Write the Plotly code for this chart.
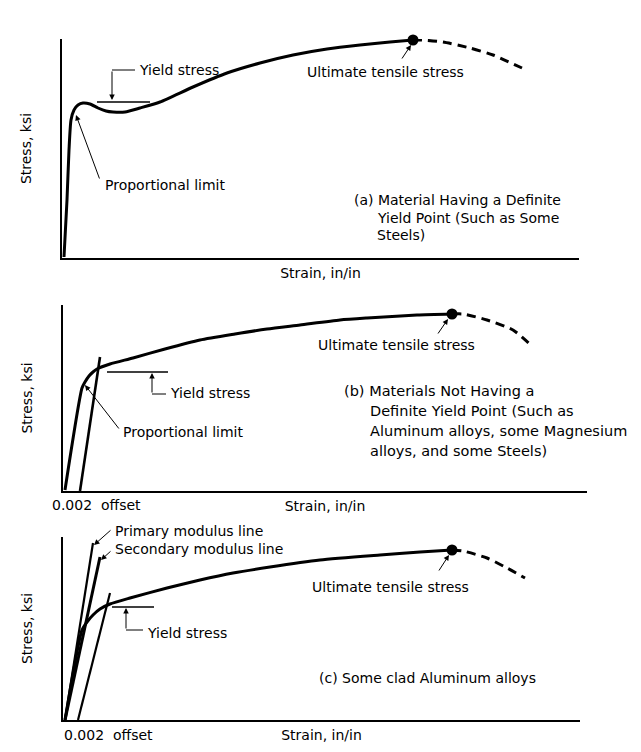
import plotly.graph_objects as go

# ---------------- data (arbitrary strain / stress units) -------------
# Panel (a): material having a definite yield point
strain_a = [2, 5, 7, 9, 12, 16, 21, 28, 36, 44, 51, 63, 78, 98, 131, 165, 198, 231, 265, 298, 328, 351]
stress_a = [1, 58, 108, 138, 148, 153, 155, 154, 150, 147, 146, 146, 150, 156, 171, 185, 195, 203, 209, 213, 216, 218]
strain_a_tail = [351, 360, 381, 408, 431, 460]
stress_a_tail = [218, 218, 216, 210, 203, 190]
yield_a_strain = [35, 88]
yield_a_stress = [156, 156]

# Panel (b): materials not having a definite yield point
strain_b = [2, 19, 22, 26, 30, 34, 47, 70, 102, 137, 172, 204, 237, 277, 304, 354, 389]
stress_b = [1, 103, 109, 115, 119, 122, 127, 133, 142, 151, 157, 162, 166, 171, 173, 176, 177]
strain_b_tail = [389, 400, 424, 450, 470]
stress_b_tail = [177, 177, 171, 161, 144]
offset_b_strain = [17, 37]
offset_b_stress = [0, 134]
yield_b_strain = [44, 105]
yield_b_stress = [119, 119]

# Panel (c): some clad aluminum alloys
strain_c = [2, 19, 24, 30, 37, 47, 67, 104, 137, 170, 207, 257, 317, 357, 389]
stress_c = [0, 90, 98, 105, 111, 116, 122, 132, 140, 147, 153, 160, 165, 168, 170]
strain_c_tail = [389, 400, 424, 444, 462]
stress_c_tail = [170, 169, 162, 152, 142]
primary_c_strain = [2, 30]
primary_c_stress = [0, 177]
secondary_c_strain = [2, 37]
secondary_c_stress = [0, 163]
offset_c_strain = [15, 47]
offset_c_stress = [0, 127]
yield_c_strain = [49, 91]
yield_c_stress = [113, 113]

FONT = "DejaVu Sans"
FS = 14
BLACK = "#000000"

fig = go.Figure()


def line(x, y, ax, w=3, dash=None):
    fig.add_trace(go.Scatter(
        x=x, y=y, mode="lines", xaxis="x" + ax, yaxis="y" + ax,
        line=dict(color=BLACK, width=w, dash=dash, shape="spline", smoothing=0.6),
        hoverinfo="skip", showlegend=False, cliponaxis=False))


def dot(x, y, ax):
    fig.add_trace(go.Scatter(
        x=[x], y=[y], mode="markers", xaxis="x" + ax, yaxis="y" + ax,
        marker=dict(color=BLACK, size=11), hoverinfo="skip",
        showlegend=False, cliponaxis=False))


# (a)
line(strain_a, stress_a, "")
line(strain_a_tail, stress_a_tail, "", dash="9px,6px")
line(yield_a_strain, yield_a_stress, "", w=1.6)
dot(strain_a[-1], stress_a[-1], "")
# (b)
line(strain_b, stress_b, "2")
line(strain_b_tail, stress_b_tail, "2", dash="9px,6px")
line(offset_b_strain, offset_b_stress, "2", w=2.6)
line(yield_b_strain, yield_b_stress, "2", w=1.6)
dot(strain_b[-1], stress_b[-1], "2")
# (c)
line(strain_c, stress_c, "3")
line(strain_c_tail, stress_c_tail, "3", dash="9px,6px")
line(primary_c_strain, primary_c_stress, "3", w=2.2)
line(secondary_c_strain, secondary_c_stress, "3", w=3)
line(offset_c_strain, offset_c_stress, "3", w=2.2)
line(yield_c_strain, yield_c_stress, "3", w=1.6)
dot(strain_c[-1], stress_c[-1], "3")

W, H = 641, 752


def px_x(p):
    return p / W


def px_y(p):
    return 1 - p / H


axis_common = dict(showline=True, linecolor=BLACK, linewidth=2, showgrid=False,
                   zeroline=False, showticklabels=False, ticks="", fixedrange=True)
xt = dict(text="Strain, in/in", font=dict(family=FONT, size=FS, color=BLACK), standoff=9)
yt = dict(text="Stress, ksi", font=dict(family=FONT, size=FS, color=BLACK), standoff=25)

fig.update_layout(
    width=W, height=H, margin=dict(l=0, r=0, t=0, b=0),
    paper_bgcolor="white", plot_bgcolor="white",
    font=dict(family=FONT, size=FS, color=BLACK),
    xaxis=dict(domain=[px_x(62), px_x(579)], range=[0, 517], anchor="y", title=xt, **axis_common),
    yaxis=dict(domain=[px_y(258), px_y(39)], range=[0, 219], anchor="x", title=yt, **axis_common),
    xaxis2=dict(domain=[px_x(63), px_x(587)], range=[0, 524], anchor="y2", title=xt, **axis_common),
    yaxis2=dict(domain=[px_y(491), px_y(305)], range=[0, 186], anchor="x2", title=yt, **axis_common),
    xaxis3=dict(domain=[px_x(63), px_x(580)], range=[0, 517], anchor="y3", title=xt, **axis_common),
    yaxis3=dict(domain=[px_y(720), px_y(537)], range=[0, 183], anchor="x3", title=yt, **axis_common),
)

ann = []


def text(x, y, s, ax, anchor="left", size=FS):
    ann.append(dict(x=x, y=y, xref="x" + ax, yref="y" + ax, text=s, showarrow=False,
                    xanchor=anchor, yanchor="middle",
                    font=dict(family=FONT, size=size, color=BLACK)))


def text_px(px, py, s, size=FS):
    ann.append(dict(x=px_x(px), y=px_y(py), xref="paper", yref="paper", text=s, showarrow=False,
                    xanchor="left", yanchor="middle",
                    font=dict(family=FONT, size=size, color=BLACK)))


def arrow(hx, hy, tx, ty, ax):
    ann.append(dict(x=hx, y=hy, ax=tx, ay=ty, xref="x" + ax, yref="y" + ax,
                    axref="x" + ax, ayref="y" + ax, text="", showarrow=True,
                    arrowhead=2, arrowsize=1.1, arrowwidth=1, arrowcolor=BLACK))


shapes = []


def seg(x0, y0, x1, y1, ax):
    shapes.append(dict(type="line", x0=x0, y0=y0, x1=x1, y1=y1, xref="x" + ax, yref="y" + ax,
                       line=dict(color=BLACK, width=1)))


# (a) annotations
text(75, 188, "Yield stress", "")
seg(50, 188, 73, 188, "")
arrow(50, 158, 50, 188, "")
text(41, 73, "Proportional limit", "")
arrow(14, 143, 38, 78, "")
text(323, 186, "Ultimate tensile stress", "", anchor="center")
arrow(349, 213, 339, 198, "")
text(290, 58, "(a) Material Having a Definite", "")
text(313, 40, "Yield Point (Such as Some", "")
text(313, 23, "Steels)", "")

# (b) annotations
text(105, 98, "Yield stress", "2")
seg(89, 97, 103, 97, "2")
arrow(89, 118, 89, 97, "2")
text(58, 59, "Proportional limit", "2")
arrow(22, 106, 57, 61, "2")
text(333, 146, "Ultimate tensile stress", "2", anchor="center")
arrow(385, 172, 374, 156, "2")
text(279, 100, "(b) Materials Not Having a", "2", size=14.5)
text(305, 80, "Definite Yield Point (Such as", "2", size=14.5)
text(305, 60, "Aluminum alloys, some Magnesium", "2", size=14.5)
text(305, 40, "alloys, and some Steels)", "2", size=14.5)
text_px(50, 505, "0.002  offset")

# (c) annotations
text(82, 87, "Yield stress", "3")
seg(63, 90, 80, 90, "3")
arrow(63, 112, 63, 90, "3")
text_px(113, 531, "Primary modulus line")
arrow(31, 175, 49, 191, "3")
text(50, 171, "Secondary modulus line", "3")
arrow(38, 160, 49, 170, "3")
text(327, 133, "Ultimate tensile stress", "3", anchor="center")
arrow(386, 165, 375, 148, "3")
text(254, 42, "(c) Some clad Aluminum alloys", "3")
text_px(62, 735, "0.002  offset")

fig.update_layout(annotations=ann, shapes=shapes)
fig.write_html("out.html", config={"displayModeBar": False},
               post_script="document.body.style.margin='0';")
